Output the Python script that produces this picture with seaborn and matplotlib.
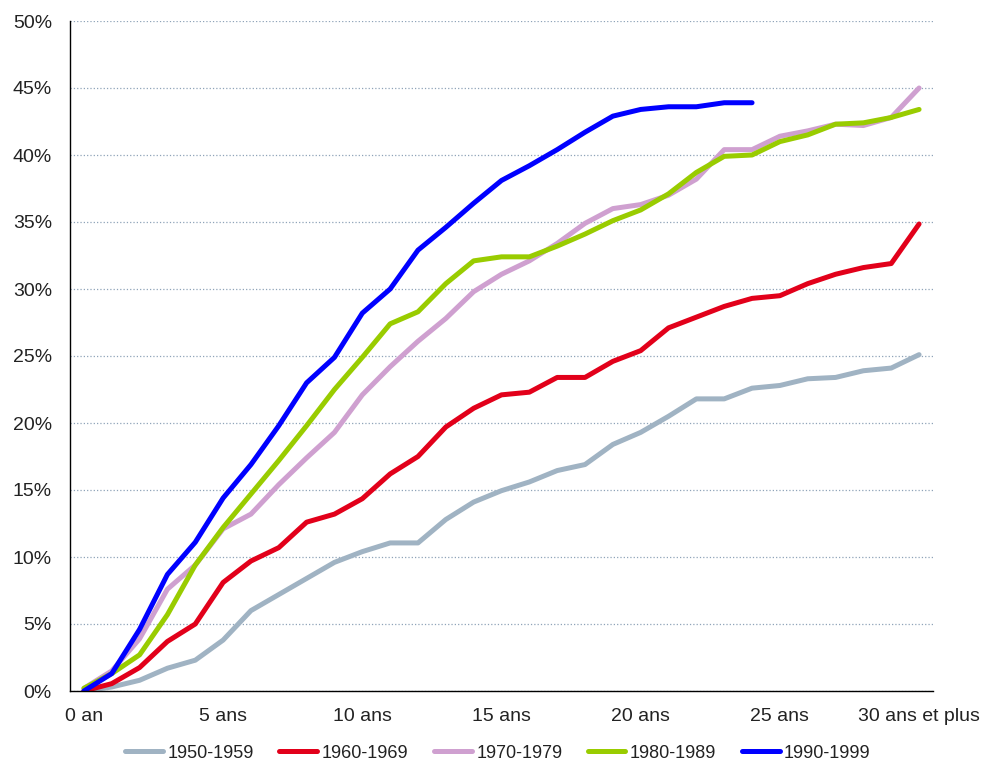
import numpy as np
import pandas as pd
import matplotlib
matplotlib.use("Agg")
import matplotlib.pyplot as plt
import seaborn as sns

# durée depuis le mariage (catégories 0 .. 30 ans et plus)
annees = list(range(31))
labels_x = ["0 an", "5 ans", "10 ans", "15 ans", "20 ans", "25 ans", "30 ans et plus"]
pos_labels = [0, 5, 10, 15, 20, 25, 30]

promos = ["1950-1959", "1960-1969", "1970-1979", "1980-1989", "1990-1999"]
couleurs = ["#a0b3c3", "#e2001a", "#cfa0d0", "#99cc00", "#0000ff"]

p1950 = [0, 0.3, 0.8, 1.7, 2.3, 3.8, 6.0, 7.2, 8.4, 9.6, 10.4, 11.05, 11.05, 12.8, 14.1,
         14.95, 15.6, 16.45, 16.9, 18.4, 19.3, 20.5, 21.8, 21.8, 22.6, 22.8, 23.3, 23.4,
         23.9, 24.1, 25.1]
p1960 = [0, 0.55, 1.75, 3.7, 5.0, 8.1, 9.7, 10.7, 12.6, 13.2, 14.35, 16.2, 17.5, 19.7, 21.1,
         22.1, 22.3, 23.4, 23.4, 24.6, 25.4, 27.1, 27.9, 28.7, 29.3, 29.5, 30.4, 31.1,
         31.6, 31.9, 34.85]
p1970 = [0.2, 1.5, 3.9, 7.6, 9.4, 12.1, 13.2, 15.4, 17.4, 19.3, 22.1, 24.2, 26.1, 27.8, 29.8,
         31.1, 32.1, 33.4, 34.9, 36.0, 36.3, 37.0, 38.2, 40.4, 40.4, 41.4, 41.8, 42.3,
         42.2, 42.8, 45.0]
p1980 = [0.2, 1.3, 2.7, 5.7, 9.4, 12.2, 14.7, 17.2, 19.8, 22.5, 24.9, 27.4, 28.3, 30.4, 32.1,
         32.4, 32.4, 33.2, 34.1, 35.1, 35.9, 37.1, 38.7, 39.9, 40.0, 41.0, 41.5, 42.3,
         42.4, 42.8, 43.4]
p1990 = [0, 1.3, 4.6, 8.7, 11.1, 14.4, 16.9, 19.8, 23.0, 24.9, 28.2, 30.0, 32.9, 34.6, 36.4,
         38.1, 39.2, 40.4, 41.7, 42.9, 43.4, 43.6, 43.6, 43.9, 43.9]

series = [p1950, p1960, p1970, p1980, p1990]
rows = []
for promo, vals in zip(promos, series):
    for a, v in zip(annees, vals):
        rows.append({"annee": a, "valeur": v, "promo": promo})
df = pd.DataFrame(rows)

sns.set_style("white")
plt.rcParams["font.family"] = ["Liberation Sans", "DejaVu Sans"]

fig = plt.figure(figsize=(9.81, 7.64), dpi=100)
ax = fig.add_axes([70 / 981, 1 - 691 / 764, 863 / 981, 670 / 764])

sns.lineplot(data=df, x="annee", y="valeur", hue="promo", hue_order=promos,
             palette=couleurs, linewidth=3.6, ax=ax, legend=False,
             solid_capstyle="round", solid_joinstyle="round")

ax.set_xlim(-0.5, 30.5)
ax.set_ylim(0, 50)
ax.set_xlabel("")
ax.set_ylabel("")

ax.set_xticks(np.arange(-0.5, 31, 1))
ax.set_xticklabels([])
ax.set_xticks(pos_labels, minor=True)
ax.set_xticklabels(labels_x, minor=True)
ax.tick_params(axis="x", which="major", direction="out", length=4, width=1, color="black")
ax.tick_params(axis="x", which="minor", length=0, pad=12, labelsize=14, labelcolor="#222222")

yt = list(range(0, 51, 5))
ax.set_yticks(yt)
ax.set_yticklabels([f"{v}%" for v in yt])
ax.tick_params(axis="y", direction="out", length=5, width=1, color="black",
               labelsize=14, labelcolor="#222222", pad=8)

ax.yaxis.grid(True, linestyle=":", color="#8fa3b8", linewidth=0.9)
ax.xaxis.grid(False)
ax.set_axisbelow(True)
for s in ["top", "right"]:
    ax.spines[s].set_visible(False)
for s in ["left", "bottom"]:
    ax.spines[s].set_color("black")
    ax.spines[s].set_linewidth(1)

handles = [plt.Line2D([], [], color=c, lw=3.6, solid_capstyle="round") for c in couleurs]
fig.legend(handles, promos, loc="center", bbox_to_anchor=(498 / 981, 11 / 764),
           ncol=5, frameon=False, fontsize=13, handlelength=2.1, handletextpad=0.25,
           columnspacing=1.4, borderpad=0, labelcolor="#222222")

fig.savefig("out.png", dpi=100)
